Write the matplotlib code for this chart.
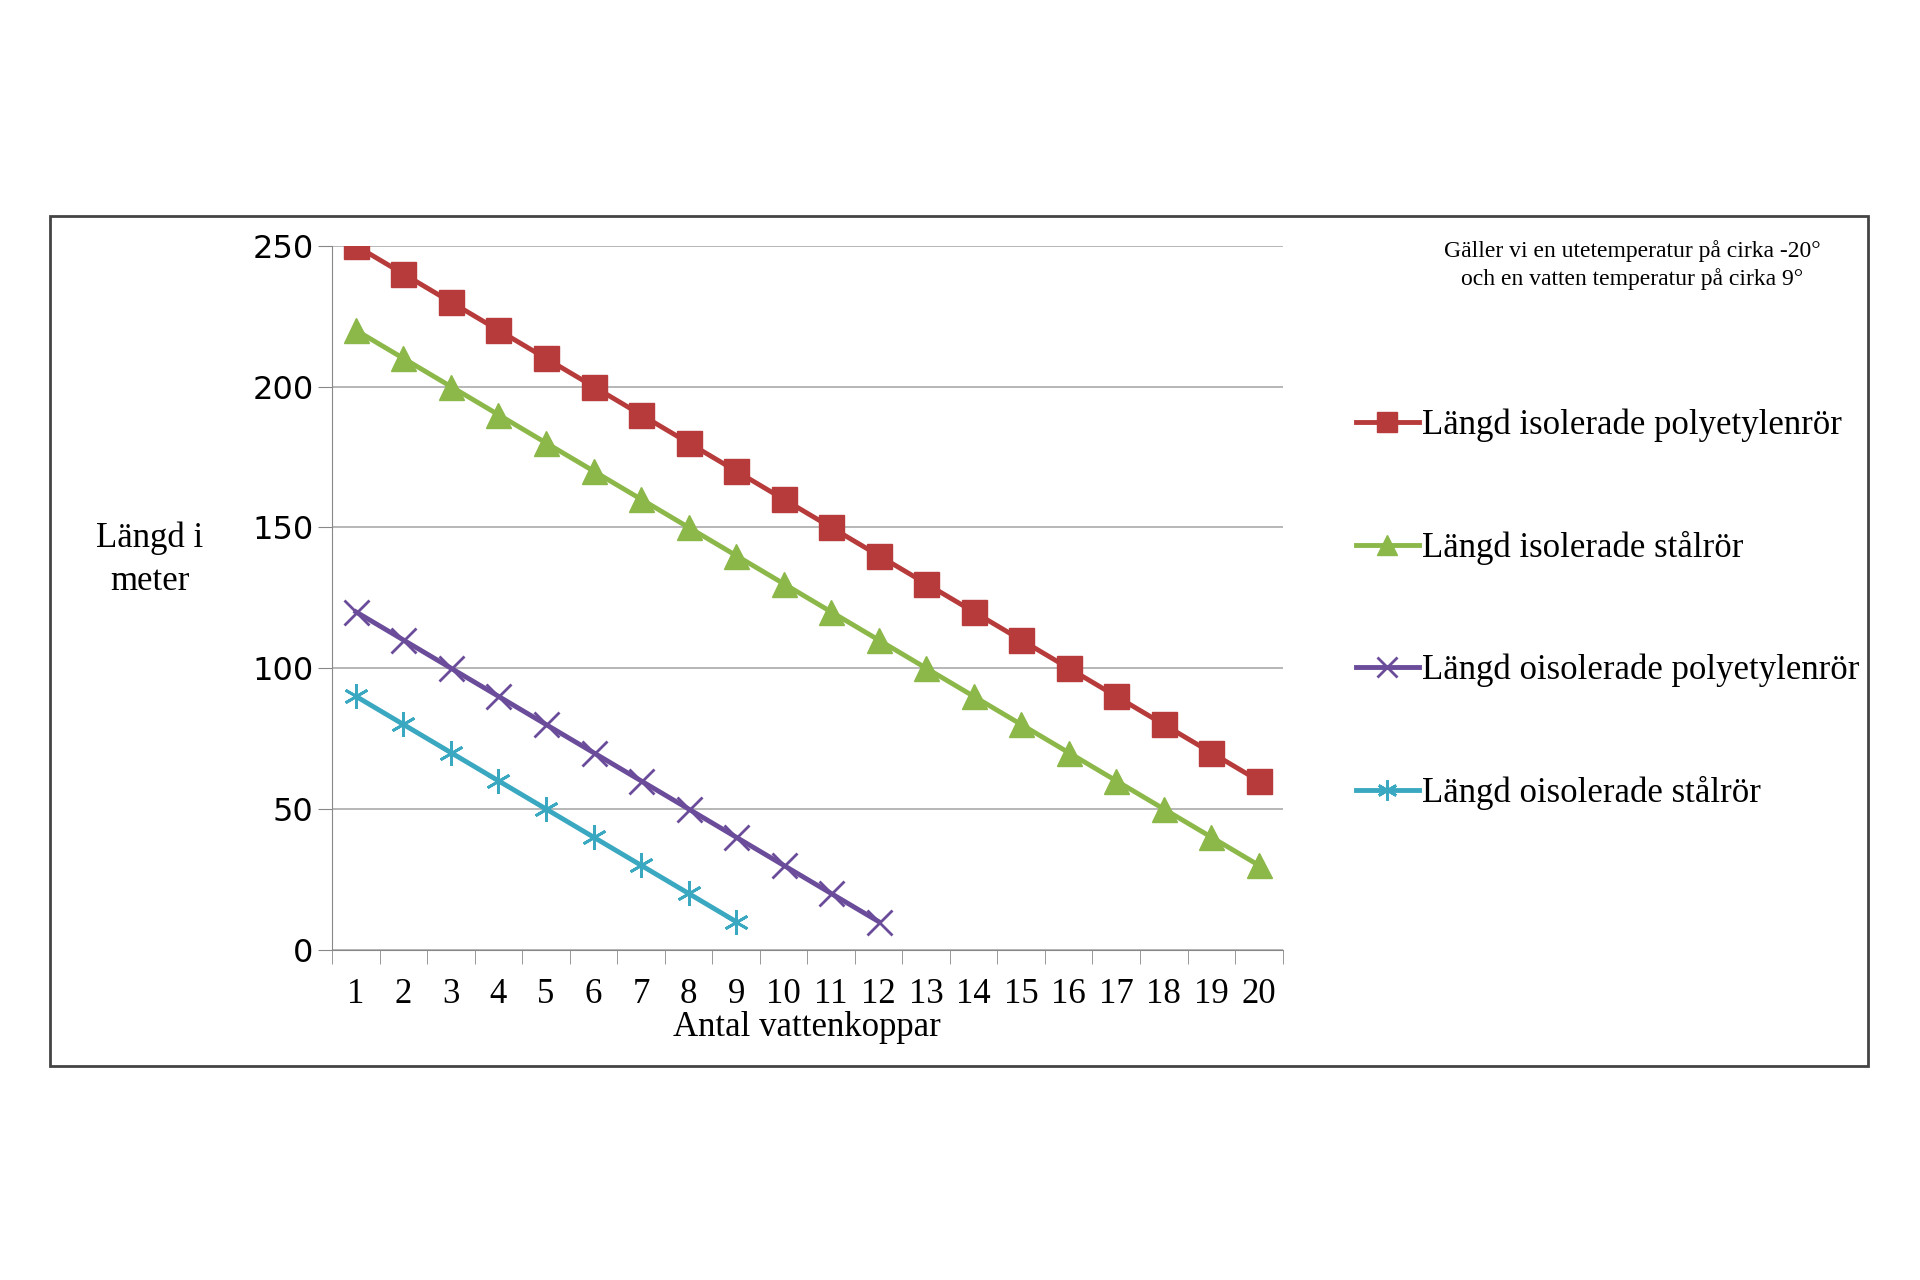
import matplotlib
matplotlib.use("Agg")
import matplotlib.pyplot as plt
from matplotlib.patches import Rectangle

x_all = list(range(1, 21))
isol_poly = [250, 240, 230, 220, 210, 200, 190, 180, 170, 160, 150, 140, 130, 120, 110, 100, 90, 80, 70, 60]
isol_stal = [220, 210, 200, 190, 180, 170, 160, 150, 140, 130, 120, 110, 100, 90, 80, 70, 60, 50, 40, 30]
oisol_poly = [120, 110, 100, 90, 80, 70, 60, 50, 40, 30, 20, 10]
oisol_stal = [90, 80, 70, 60, 50, 40, 30, 20, 10]
labels = ["Längd isolerade polyetylenrör", "Längd isolerade stålrör",
          "Längd oisolerade polyetylenrör", "Längd oisolerade stålrör"]

serif = "Liberation Serif"
fig = plt.figure(figsize=(19.2, 12.8), dpi=100)
fig.patches.append(Rectangle((0.026, 0.167), 0.947, 0.664, transform=fig.transFigure,
                             fill=False, edgecolor="#444444", linewidth=2))
ax = fig.add_axes([0.173, 0.258, 0.495, 0.55])

ax.plot(x_all, isol_poly, color="#b83b3b", marker="s", markersize=18, linewidth=3.5, label=labels[0])
ax.plot(x_all, isol_stal, color="#8cb84a", marker="^", markersize=18, linewidth=3.5, label=labels[1])
ax.plot(range(1, 13), oisol_poly, color="#6a4c9a", marker="x", markersize=18, mew=2, linewidth=3.5, label=labels[2])
ax.plot(range(1, 10), oisol_stal, color="#3aa8c0", marker=(6, 2, 0), markersize=18, mew=2, linewidth=3.5, label=labels[3])

ax.set_xlim(0.5, 20.5)
ax.set_ylim(0, 250)
ax.set_yticks(range(0, 251, 50))
ax.set_xticks(x_all)
ax.set_xticks([i + 0.5 for i in range(0, 21)], minor=True)
ax.tick_params(axis="x", which="major", length=0, labelsize=25, pad=20)
ax.tick_params(axis="x", which="minor", length=10, color="#888888")
ax.tick_params(axis="y", length=10, color="#888888", labelsize=23)
for lab in ax.get_xticklabels():
    lab.set_fontfamily(serif)
ax.grid(axis="y", color="#aaaaaa", linewidth=1.2)
for s in ["top", "right"]:
    ax.spines[s].set_visible(False)
ax.spines["left"].set_color("#888888")
ax.spines["bottom"].set_color("#888888")

ax.set_xlabel("Antal vattenkoppar", fontsize=25, fontfamily=serif, labelpad=0)
fig.text(0.078, 0.563, "Längd i\nmeter", fontsize=25, fontfamily=serif, ha="center", va="center",
         linespacing=1.4)
fig.text(0.85, 0.793, "Gäller vi en utetemperatur på cirka -20°\noch en vatten temperatur på cirka 9°",
         fontsize=17, fontfamily=serif, ha="center", va="center", linespacing=1.4)

fig.legend(loc="upper left", bbox_to_anchor=(0.69, 0.705), frameon=False,
           prop={"family": serif, "size": 25}, labelspacing=2.55, handlelength=1.8,
           handletextpad=0.1, markerscale=0.8)

fig.savefig("out.png", dpi=100)
